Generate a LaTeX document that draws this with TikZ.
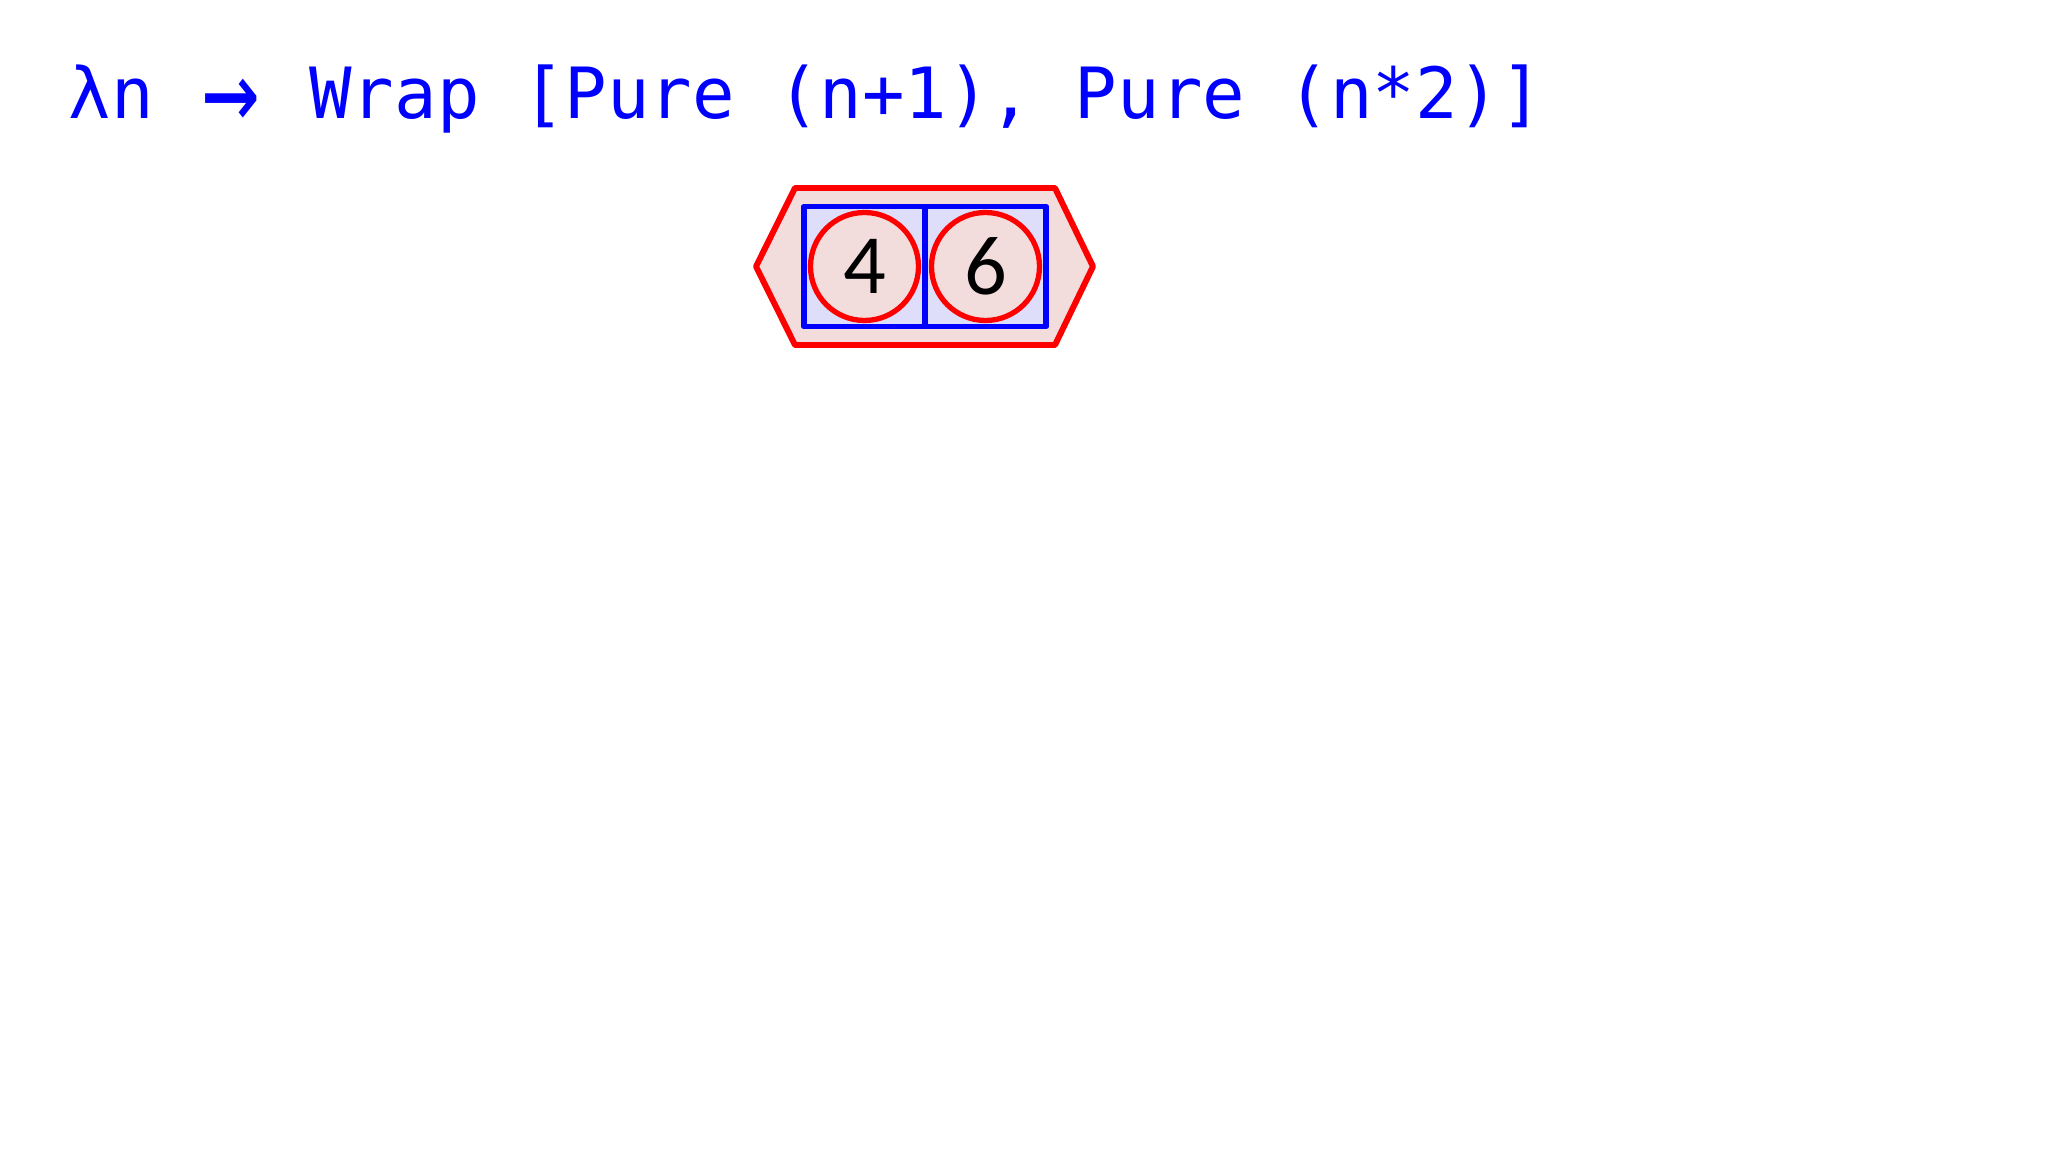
\documentclass[tikz,border=0pt]{standalone}
\usepackage{fontspec}
\newfontfamily\codefont{DejaVu Sans Mono}
\newfontfamily\numfont{Carlito}
\definecolor{pinkfill}{RGB}{242,220,220}
\definecolor{cellfill}{RGB}{222,222,250}
\newcommand{\bigarrow}{\makebox[1.0em]{\raisebox{-0.18em}{\scalebox{1.35}[1.7]{→}}}}
\tikzset{
	cell/.style={draw=blue,fill=cellfill,line width=1.7pt,minimum width=1.21cm,minimum height=1.2cm,inner sep=0pt,outer sep=0pt},
	num/.style={circle,draw=red,fill=pinkfill,line width=1.5pt,minimum size=1.08cm,inner sep=0pt,font=\numfont\fontsize{24}{28}\selectfont}
}
\begin{document}
\begin{tikzpicture}[line join=round,line cap=round,declare function={h=0.785;}]
	\useasboundingbox[fill=white] (0,0) rectangle (20.48,-11.52);
	\node[anchor=base west,inner sep=0pt,text=blue,font=\codefont\fontsize{20.1}{24}\selectfont] (title) at (0.68,-1.19) {λn \bigarrow{} Wrap [Pure (n+1), Pure (n*2)]};
	% wrapper
	\begin{scope}[shift={(9.25,-2.665)}]
		\draw[red,fill=pinkfill,line width=1.7pt] (-1.69,0)--(-1.30,h)--(1.30,h)--(1.68,0)--(1.30,-h)--(-1.30,-h)--cycle;
		\node[cell,anchor=east] (left) at (0,0) {};
		\node[cell,anchor=west] (right) at (0,0) {};
		\node[num] (four) at (left) {4};
		\node[num] (six) at (right) {6};
	\end{scope}
\end{tikzpicture}
\end{document}
